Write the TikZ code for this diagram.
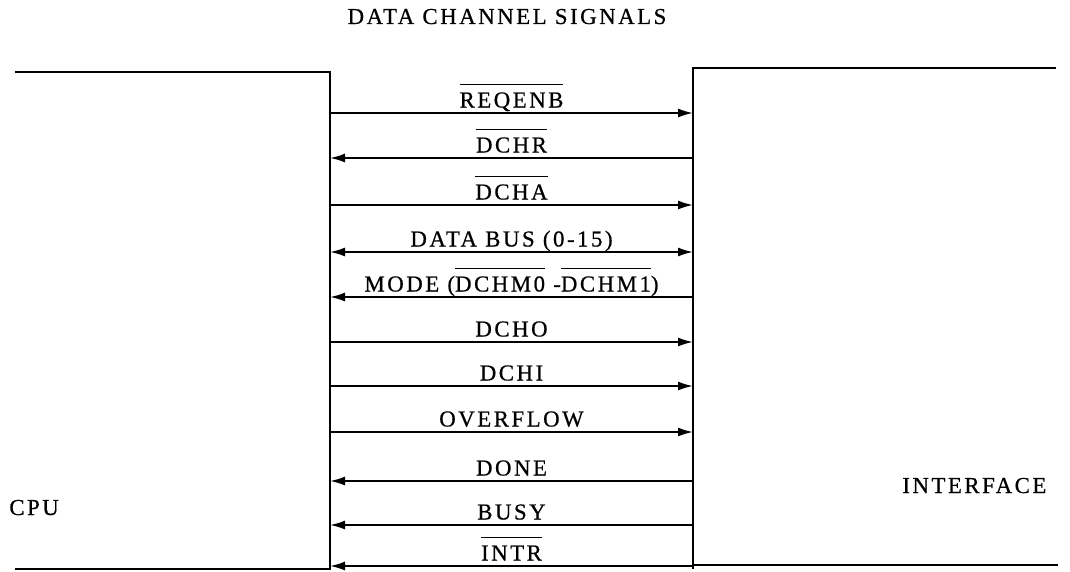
\documentclass[tikz,border=0pt]{standalone}
\usepackage{amsmath}
\usepackage{fontspec}
\setmainfont{Liberation Serif}[LetterSpace=11,FakeBold=0.6]
\usetikzlibrary{arrows.meta}
\newcommand{\negsig}[1]{$\overline{\rule{0pt}{11.6pt}\text{#1}}$}

\begin{document}
\begin{tikzpicture}[
  x=0.02cm, y=-0.02cm,
  box/.style={line width=1.6pt},
  sig/.style={line width=1pt, >={Latex[length=3mm,width=1.8mm]}},
  lbl/.style={anchor=base, yshift=0.11cm, inner sep=0pt, font=\fontsize{13}{15}\selectfont},
  txt/.style={inner sep=0pt, font=\fontsize{13}{15}\selectfont}
]
\useasboundingbox (0,0) rectangle (1070,571);

% title and unit names
\node[txt, anchor=base] (title) at (507,24) {DATA CHANNEL SIGNALS};
\node[txt, anchor=base west] (cpu) at (9,515) {CPU};
\node[txt, anchor=base west] (ifc) at (902,493) {INTERFACE};

% the two units
\draw[box] (15,72) -- (330,72) -- (330,569) -- (15,569);
\draw[box] (1056,68) -- (693,68) -- (693,569);
\draw[box] (693,565) -- (1058,565);

% signal end points
\coordinate (c1) at (330,113);  \coordinate (i1) at (693,113);
\coordinate (c2) at (330,158);  \coordinate (i2) at (693,158);
\coordinate (c3) at (330,205);  \coordinate (i3) at (693,205);
\coordinate (c4) at (330,252);  \coordinate (i4) at (693,252);
\coordinate (c5) at (330,297);  \coordinate (i5) at (693,297);
\coordinate (c6) at (330,342);  \coordinate (i6) at (693,342);
\coordinate (c7) at (330,386);  \coordinate (i7) at (693,386);
\coordinate (c8) at (330,432);  \coordinate (i8) at (693,432);
\coordinate (c9) at (330,481);  \coordinate (i9) at (693,481);
\coordinate (c10) at (330,525); \coordinate (i10) at (693,525);
\coordinate (c11) at (330,566); \coordinate (i11) at (693,566);

\draw[sig, ->] (c1) -- node[lbl]{\negsig{REQENB}} (i1);
\draw[sig, <-] (c2) -- node[lbl]{\negsig{DCHR}} (i2);
\draw[sig, ->] (c3) -- node[lbl]{\negsig{DCHA}} (i3);
\draw[sig, <->] (c4) -- node[lbl]{DATA BUS (0-15)} (i4);
\draw[sig, <-] (c5) -- node[lbl]{MODE (\negsig{DCHM0} -\negsig{DCHM1})} (i5);
\draw[sig, ->] (c6) -- node[lbl]{DCHO} (i6);
\draw[sig, ->] (c7) -- node[lbl]{DCHI} (i7);
\draw[sig, ->] (c8) -- node[lbl]{OVERFLOW} (i8);
\draw[sig, <-] (c9) -- node[lbl]{DONE} (i9);
\draw[sig, <-] (c10) -- node[lbl]{BUSY} (i10);
\draw[sig, <-] (c11) -- node[lbl]{\negsig{INTR}} (i11);
\end{tikzpicture}
\end{document}
